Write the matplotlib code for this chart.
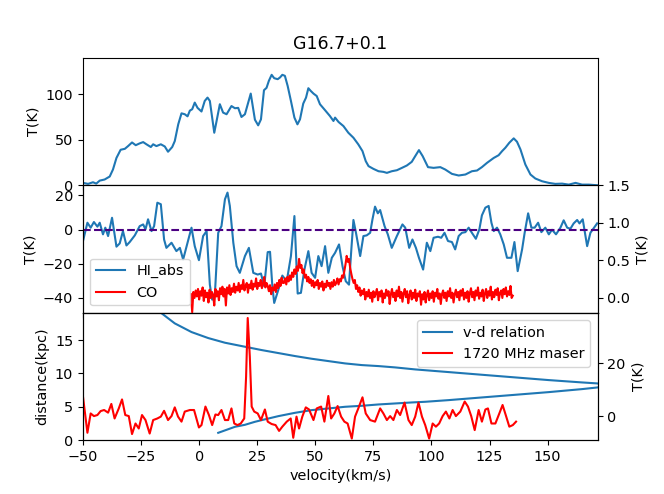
import numpy as np
import matplotlib
matplotlib.use("Agg")
import matplotlib.pyplot as plt

plt.rcParams['font.size'] = 10.4

# HI emission spectrum (top panel)
hi_em_v = [-50, -47.8, -45.7, -44.3, -42.8, -40.7, -38.5, -37.1, -35.6, -33.8, -32, -30.6, -28.9,
           -27.3, -25.6, -24.1, -22.7, -20.8, -19.8, -18.4, -16.5, -14.8, -13.4, -11.6, -10.5, -9,
           -7.6, -6.2, -5, -4, -3, -1.9, -0.7, 1, 2.4, 3.6, 4.6, 6.5, 7.5, 8.9, 10.3, 11.8, 13.9,
           15.4, 16.8, 18.2, 19.7, 22.2, 24, 25.4, 26.6, 27.9, 29, 30, 31.2, 32.3, 33.8, 34.8, 35.8,
           36.9, 38.1, 39.5, 41, 42.3, 43.4, 44.8, 46, 47, 48, 49.2, 50.6, 52, 54.2, 56.3, 57.8,
           58.5, 60, 62.1, 64.2, 66.4, 68.5, 70.3, 71.7, 72.9, 75, 77.2, 79.3, 80.8, 82.9, 85.1,
           87.2, 89.4, 91.5, 93, 94.6, 96.2, 98.5, 100.9, 103.8, 105.9, 108.8, 111.7, 114.6,
           117.4, 119.6, 121.7, 123.9, 126.8, 128.9, 130.4, 131.8, 133.5, 135.4, 136.8, 138.3,
           140.4, 142.6, 144.7, 147.6, 150.5, 153.3, 156.2, 159.1, 162, 164.8, 167.7, 171.3]
hi_em_T = [2.6, 1.5, 3.3, 1.8, 5.1, 6.3, 9.6, 17.3, 30, 39, 40, 43, 47,
           44, 46, 47.4, 45, 42, 45, 43, 45, 42.6, 36.8, 42, 48.5, 67,
           79, 78, 75.7, 82, 83.5, 90.8, 85, 81, 92.6, 96.3, 92.6, 57.7, 70.6, 89, 79.8, 78, 87,
           84.6, 85, 75, 78, 100.7, 72, 65.8, 72.4, 104.4, 107, 114.7, 121.3, 117.6, 116.5, 118.4, 121.3,
           120.2, 109, 92.6, 74.3, 66.9, 72.4, 89.7, 96.3, 106.6, 103.7, 100.7, 98, 89, 82.4, 76, 70.6,
           74.3, 69.5, 65, 57.7, 52.2, 44.9, 37.5, 26.5, 21, 18, 15.4, 14.7, 13.6, 15.4, 16.5,
           19, 21.7, 25.7, 32, 38.6, 32, 19.9, 19.1, 19.9, 17.3, 12.5, 10.7, 11.8,
           15.4, 16.2, 19.9, 24.6, 30, 33, 37.5, 41.2, 46.7, 51.5, 47.8, 39.3,
           22.8, 11.8, 7.4, 4.4, 2.6, 1.5, 1.8, 0.7, 2.6, 0.7, 0.7, 0]

# HI absorption spectrum (middle panel, left axis)
hi_abs_v = [-50, -48.1, -46.7, -45.3, -43.8, -42.8, -41.4, -40.4, -39.2, -37.5, -35.6, -34.2, -32.8,
            -31.3, -29.9, -27.7, -25.6, -24.1, -23.1, -22, -20.5, -19.4, -18, -16.5, -15.1, -14.1,
            -11.9, -9.8, -8.3, -6.9, -5, -3.3, -1.9, -0.1, 1.7, 3.2, 4.6, 5.6, 6.8, 8.2, 9.6, 11.1,
            12.2, 13.2, 14.7, 16.1, 17.5, 19.7, 21.4, 23.3, 25.2, 26.6, 28, 29.5, 30.5, 31.5, 32.3,
            34.1, 35.8, 37.7, 39.5, 41, 42.4, 43.8, 45.3, 47, 48.4, 49.9, 51.3, 52.7, 54.2, 55.6,
            57.1, 58.5, 60.2, 61.7, 63.1, 64.5, 65.4, 66.4, 67.5, 69.3, 70.7, 72.1, 73.6, 74.6, 75.7,
            76.9, 77.9, 79.8, 81.2, 82.9, 85.1, 87.5, 88.7, 90.4, 91.8, 93.3, 94.6, 96.4, 98, 99.5,
            100.9, 102.8, 104.2, 105.6, 107.1, 108.8, 110.2, 111.7, 113.1, 114.6, 116, 117.4, 119.1,
            120.6, 121.7, 123.2, 124.6, 125.8, 126.8, 128.2, 129.6, 131.1, 132.5, 134.4, 135.7,
            137.1, 139, 140.1, 141.6, 143, 144.4, 145.9, 147.3, 149, 150.5, 151.9, 153.6, 155.5,
            156.9, 158.4, 159.8, 161.2, 162.7, 163.7, 165.1, 167, 168.4, 171.3]
hi_abs_T = [-6.7, 4, 1.1, 4.4, 1.7, 4, -2.8, 1.1, -3.8, 6.9, -10, -8.1, -0.9,
            -9.3, -7.3, -3.4, 2, 3, 0.1, 6, -0.9, 2, 15.7, 14.8, -5.8, -10.7,
            -7.7, -12.6, -10.7, -17.5, -7.7, 1.1, -9.7, -17.9, -3.8, -0.9, -32.2, -41, -37, -1.9, 2, 17.7,
            21.6, 13.8, -7.7, -21.4, -25.3, -15.5, -10.7, -25.3, -26.3, -25.7, -33.1, -13.2, -13, -33.1, -42.9,
            -35.1, -26.9, -30.2, -15.5, 7.9, -37.4, -37, -23.4, -12.6, -25.3, -28.2, -15.5, -21.4, -9.7, -25.3,
            -16.5, -13.6, -8.7, -21.4, -30.2, -32.2, -13.6, 5.6, -1.9, -15.5, -3.8, -3.4, -1.9, 6, 13.4,
            9.5, 11.4, 2, -2.8, -10.7, -3.8, 3, 1.1, -10.7, -5.8, -10.7, -16.5, -23.4, -7.7, -12.6,
            -4.8, -4.2, -4.8, -1.9, -6.7, -7.3, -11.6, -3.8, -1.9, -1.5, 1.1, -1.9, -5.4,
            0.1, 8.3, 12.8, 13.8, 4, -0.9, 1.1, -2.8, -8.7, -16.5, -16.5, -7.3,
            -24.3, -11.6, -1.9, 9.5, 1.1, 1.1, 4, -1.5, 1.1, -2.8, -0.1, -2.8, 1.1,
            5.4, 1.1, 0.5, 3.6, 5.6, 3.6, 6, -9.7, -1.9, 3.6]
abs_baseline = 0

# CO spectrum (middle panel, right axis), 0.5 km/s channels starting at -3.5 km/s
co_v0 = -3.5
co_dv = 0.5
co_T = [0.05, -0.19, 0.08, 0.0, 0.1, 0.02, 0.12, -0.02, 0.09, 0.03, 0.14, -0.04, 0.1, 0.01, 0.07, -0.06, 0.11, 0.0, 0.08, 0.04,
        -0.1, 0.12, 0.02, 0.09, -0.03, 0.13, 0.05, 0.15, 0.02, 0.12, -0.1, 0.14, 0.06, 0.17, 0.04, 0.13, 0.08, 0.19, 0.07, 0.15,
        0.1, 0.2, 0.08, 0.17, 0.12, 0.24, 0.1, 0.16, 0.2, 0.07, 0.18, 0.13, 0.23, 0.11, 0.19, 0.15, 0.26, 0.12, 0.2, 0.16,
        0.24, 0.13, 0.19, 0.28, 0.14, 0.2, 0.16, 0.09, 0.17, 0.05, 0.14, 0.1, 0.18, 0.08, 0.2, 0.13, 0.24, 0.16, 0.27, 0.2,
        0.2, 0.26, 0.18, 0.28, 0.22, 0.3, 0.24, 0.34, 0.28, 0.38, 0.32, 0.42, 0.36, 0.52, 0.4, 0.44, 0.33, 0.38, 0.27, 0.31,
        0.22, 0.28, 0.2, 0.25, 0.16, 0.23, 0.14, 0.21, 0.17, 0.24, 0.12, 0.2, 0.15, 0.22, 0.1, 0.19, 0.14, 0.23, 0.16, 0.2,
        0.12, 0.21, 0.15, 0.24, 0.17, 0.2, 0.26, 0.18, 0.25, 0.22, 0.3, 0.27, 0.36, 0.45, 0.56, 0.48, 0.52, 0.4, 0.32, 0.25,
        0.2, 0.24, 0.12, 0.17, 0.08, 0.14, 0.03, 0.1, 0.05, 0.12, -0.02, 0.08, 0.02, 0.11, 0.0, 0.07, -0.05, 0.09, 0.01, 0.06,
        0.12, -0.03, 0.08, 0.02, 0.1, -0.06, 0.06, 0.0, 0.11, 0.03, 0.09, -0.08, 0.05, 0.12, 0.01, 0.07, -0.04, 0.1, 0.02, 0.15,
        0.0, 0.08, -0.05, 0.06, 0.12, 0.01, 0.09, -0.07, 0.04, 0.1, -0.02, 0.07, 0.0, 0.11, -0.04, 0.06, 0.02, 0.09, -0.09, 0.05,
        -0.02, 0.08, -0.06, 0.04, 0.1, -0.03, 0.06, 0.0, 0.09, -0.05, 0.07, 0.02, 0.12, -0.01, 0.06, -0.08, 0.05, 0.1, 0.0, 0.07,
        -0.04, 0.09, 0.02, 0.13, 0.0, 0.07, -0.06, 0.05, 0.11, 0.01, 0.08, -0.03, 0.1, 0.03, 0.12, -0.02, 0.07, 0.0, 0.09, -0.05,
        0.06, 0.13, 0.01, 0.08, -0.03, 0.1, 0.03, 0.14, -0.01, 0.07, 0.02, 0.11, -0.04, 0.06, 0.12, 0.0, 0.09, 0.03, 0.15, -0.02,
        0.08, 0.01, 0.11, 0.04, 0.13, -0.03, 0.07, 0.1, 0.0, 0.12, 0.05, 0.14, 0.02, 0.09, 0.04, 0.16, 0.0, 0.03]
co_v = co_v0 + co_dv * np.arange(len(co_T))

# kinematic distance curve (bottom panel, left axis), near branch then far branch
vd_v = [8.2, 15.4, 19.7, 24, 26.9, 34.1, 41.3, 48.4, 55.6, 62.8, 70, 77.2, 84.4, 91.5, 97.3,
        107.4, 121.7, 136.1, 150.5, 164.8, 171.5, 174,
        171.5, 164.8, 150.5, 136.1, 121.7, 107.4, 93, 84.4, 77.2, 70, 62.8, 55.6, 48.4, 41.3,
        34.1, 26.9, 19.7, 11.1, 3.9, -3.3, -10.5, -16.5, -18]
vd_d = [1.1, 2.0, 2.3, 2.75, 3.0, 3.6, 4.1, 4.5, 4.75, 5.0, 5.15, 5.35, 5.5, 5.65, 5.75,
        6.0, 6.4, 6.8, 7.2, 7.65, 7.9, 8.2,
        8.5, 8.65, 9.0, 9.4, 9.8, 10.2, 10.6, 10.9, 11.1, 11.25, 11.5, 11.85, 12.2, 12.6,
        13.05, 13.5, 14.0, 14.6, 15.3, 16.2, 17.5, 19.1, 19.6]

# OH 1720 MHz spectrum (bottom panel, right axis)
maser_v = [-50, -48.1, -46.7, -45.3, -43.8, -42.4, -40.9, -39.2, -37.8, -36.4, -34.6, -33.2, -31.8,
           -30.3, -28.9, -27.4, -26, -24.6, -23.1, -21.3, -19.8, -18, -16.5, -15.1, -13.4, -11.9,
           -10.5, -9.1, -7.6, -6.2, -4, -2.2, -0.1, 1, 2.7, 4.2, 5.6, 7, 8.2, 9.6, 11.1, 12.5, 13.9,
           15.1, 16.5, 17.9, 19.4, 20.2, 20.9, 21.8, 22.6, 23.7, 25.2, 26.6, 28.3, 29.5, 31.2, 32.9,
           34.4, 35.8, 37.7, 39.4, 40.5, 41.9, 43, 44.4, 45.9, 47.3, 49.2, 50.6, 52.5, 53.9, 55.6,
           56.8, 58.2, 59.6, 61.1, 62.5, 63.9, 65.7, 67.1, 68.5, 70.3, 71.7, 73.6, 75.7, 77.9, 79.3,
           80.8, 82.2, 83.6, 85.1, 86.5, 88.4, 90.1, 91.5, 93, 94.4, 95.9, 97.3, 99, 100.5, 101.9,
           103.3, 104.8, 106.2, 107.7, 109.1, 110.5, 112.4, 114.3, 115.7, 117.1, 118.6, 120.3,
           121.7, 123.2, 124.3, 125.8, 127.5, 129.2, 130.6, 132.1, 133.5, 135, 136.4]
maser_T = [7.3, -6.3, 1.0, 0.0, 0.4, 1.9, 2.3, 1.3, 4.6, -0.9, 2.9, 6.3, 0.4,
           0.0, -6.8, -2.8, -4.7, 0.4, -1.5, -6.6, -1.5, -0.9, -0.2, 2.0, -1.5, 0.0,
           3.3, -0.2, -2.1, 1.7, 2.3, 2.3, -4.3, -3.4, 3.6, 0.4, -3.4, 0.6, 0.4, 2.3, -1.5, -1.5, 2.9,
           -2.8, -3.4, -2.8, -0.9, 14.9, 37.1, 22.5, 3.6, 1.7, 1.0, -1.5, 2.5, -2.1, -3.0, -3.4,
           -5.6, -4.0, -2.1, -0.9, -8.2, -0.2, -4.7, -0.2, 3.3, 2.5, -1.5, 2.9, 3.6, -2.1, 7.6,
           -0.9, 1.0, 3.8, -0.2, -2.1, -2.8, -8.5, -0.2, 2.9, 7.1, 1.0, -1.5, -2.1, 2.9, 1.0,
           -1.5, 0.0, -1.5, 2.3, 0.4, 5.1, -1.5, -3.4, -0.2, 5.1, -0.2, -3.4, -8.5, -2.8, -4.0,
           -2.8, 0.0, 1.7, -0.9, 2.3, 0.0, 1.7, 5.5, 3.6, 0.0, -5.3, 2.3,
           -2.1, 2.5, 2.9, -2.8, -2.8, 1.0, 4.2, 0.0, -4.0, -3.4, -2.1]

fig, (ax1, ax2, ax3) = plt.subplots(3, 1, sharex=True, figsize=(6.64, 4.94), dpi=100)
fig.subplots_adjust(hspace=0, left=0.125, right=0.9, top=0.883, bottom=0.109)

#   top: HI emission
ax1.plot(hi_em_v, hi_em_T, color='C0')
ax1.set_ylim(0, 140)
ax1.set_ylabel('T(K)')
ax1.set_title('G16.7+0.1')

#   middle: HI absorption + CO
l_abs, = ax2.plot(hi_abs_v, hi_abs_T, color='C0', label='HI_abs')
ax2.axhline(abs_baseline, color='indigo', linestyle='--')
ax2.set_ylim(-48.6, 25.9)
ax2.set_yticks([-40, -20, 0, 20])
ax2.set_ylabel('T(K)')
ax2b = ax2.twinx()
l_co, = ax2b.plot(co_v, co_T, color='r', label='CO')
ax2b.set_ylim(-0.196, 1.5)
ax2b.set_yticks([0.0, 0.5, 1.0, 1.5])
ax2b.set_ylabel('T(K)')
ax2b.legend([l_abs, l_co], ['HI_abs', 'CO'], loc='lower left')

#   bottom: v-d relation + maser
l_vd, = ax3.plot(vd_v, vd_d, color='C0', label='v-d relation')
ax3.set_ylim(0, 19.1)
ax3.set_yticks([0, 5, 10, 15])
ax3.set_ylabel('distance(kpc)')
ax3.set_xlabel('velocity(km/s)')
ax3b = ax3.twinx()
l_ms, = ax3b.plot(maser_v, maser_T, color='r', label='1720 MHz maser')
ax3b.set_ylim(-9.1, 39.1)
ax3b.set_yticks([0, 20])
ax3b.set_ylabel('T(K)')
ax3b.legend([l_vd, l_ms], ['v-d relation', '1720 MHz maser'], loc='upper right')

ax3.set_xlim(-50, 171.5)
ax3.set_xticks([-50, -25, 0, 25, 50, 75, 100, 125, 150])

fig.savefig('out.png', dpi=100)
